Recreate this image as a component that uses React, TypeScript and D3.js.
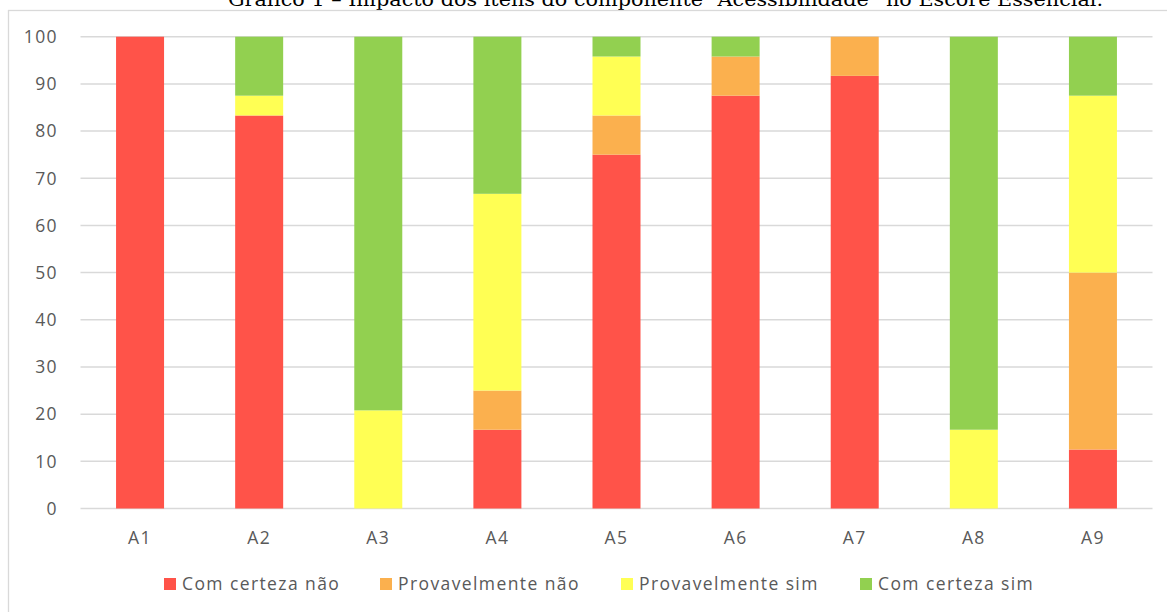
import React from "react";
import * as d3 from "d3";

const categories = ["A1", "A2", "A3", "A4", "A5", "A6", "A7", "A8", "A9"];
const seriesNames = ["Com certeza não", "Provavelmente não", "Provavelmente sim", "Com certeza sim"];
const comCertezaNao = [100, 83.3, 0, 16.7, 75, 87.5, 91.7, 0, 12.5];
const provavelmenteNao = [0, 0, 0, 8.3, 8.3, 8.3, 8.3, 0, 37.5];
const provavelmenteSim = [0, 4.2, 20.8, 41.7, 12.5, 0, 0, 16.7, 37.5];
const comCertezaSim = [0, 12.5, 79.2, 33.3, 4.2, 4.2, 0, 83.3, 12.5];
const yTicks = [0, 10, 20, 30, 40, 50, 60, 70, 80, 90, 100];
const colors = ["#FF5349", "#FBB04E", "#FFFF54", "#92D050"];
const title = "Gráfico 1 – Impacto dos itens do componente “Acessibilidade” no Escore Essencial.";

const W = 1167;
const H = 612;
const FONT = "'Open Sans', Lato, sans-serif";
const TXT = "#595959";
const FS = 17.5;
const LS = 1.4;

export default function App() {
  const series = [comCertezaNao, provavelmenteNao, provavelmenteSim, comCertezaSim];
  const rows = categories.map((c, i) => {
    const o: any = { cat: c };
    seriesNames.forEach((s, k) => (o[s] = series[k][i]));
    return o;
  });
  const stacked = d3.stack<any>().keys(seriesNames)(rows);

  const x = d3.scaleBand<string>().domain(categories).range([80.5, 1152.5]).paddingInner(0.597).paddingOuter(0.2985);
  const y = d3.scaleLinear().domain([0, 100]).range([508.5, 36.7]);

  const legendX = [164, 380, 621, 860];

  return (
    <svg width={W} height={H} style={{ position: "absolute", left: 0, top: 0, background: "#fff" }}>
      <rect x={0} y={0} width={W} height={H} fill="#fff" />
      <text
        x={228}
        y={6}
        fontFamily="'DejaVu Serif', serif"
        fontSize={19}
        fill="#000"
        textLength={875}
        lengthAdjust="spacingAndGlyphs"
      >
        {title}
      </text>
      <rect x={8.5} y={10.5} width={W + 20} height={H + 20} fill="none" stroke="#d9d9d9" strokeWidth={1.3} />
      {yTicks.map((t) => (
        <g key={t}>
          <line x1={80.5} x2={1152.5} y1={y(t)} y2={y(t)} stroke="#d9d9d9" strokeWidth={1.5} />
          <text x={58} y={y(t)} dy="0.36em" textAnchor="end" fontFamily={FONT} fontSize={FS} fill={TXT} letterSpacing={LS}>
            {t}
          </text>
        </g>
      ))}
      {stacked.map((s, k) => (
        <g key={s.key} fill={colors[k]}>
          {s.map((d, i) =>
            d[1] - d[0] > 0 ? (
              <rect
                key={i}
                x={x(categories[i])}
                width={x.bandwidth()}
                y={y(d[1])}
                height={y(d[0]) - y(d[1])}
              />
            ) : null
          )}
        </g>
      ))}
      {categories.map((c) => (
        <text key={c} x={(x(c) as number) + x.bandwidth() / 2} y={544} textAnchor="middle" fontFamily={FONT} fontSize={FS} fill={TXT} letterSpacing={LS}>
          {c}
        </text>
      ))}
      {seriesNames.map((s, k) => (
        <g key={s}>
          <rect x={legendX[k]} y={578} width={12} height={12} fill={colors[k]} />
          <text x={legendX[k] + 18} y={584} dy="0.36em" fontFamily={FONT} fontSize={FS} fill={TXT} letterSpacing={LS}>
            {s}
          </text>
        </g>
      ))}
    </svg>
  );
}
